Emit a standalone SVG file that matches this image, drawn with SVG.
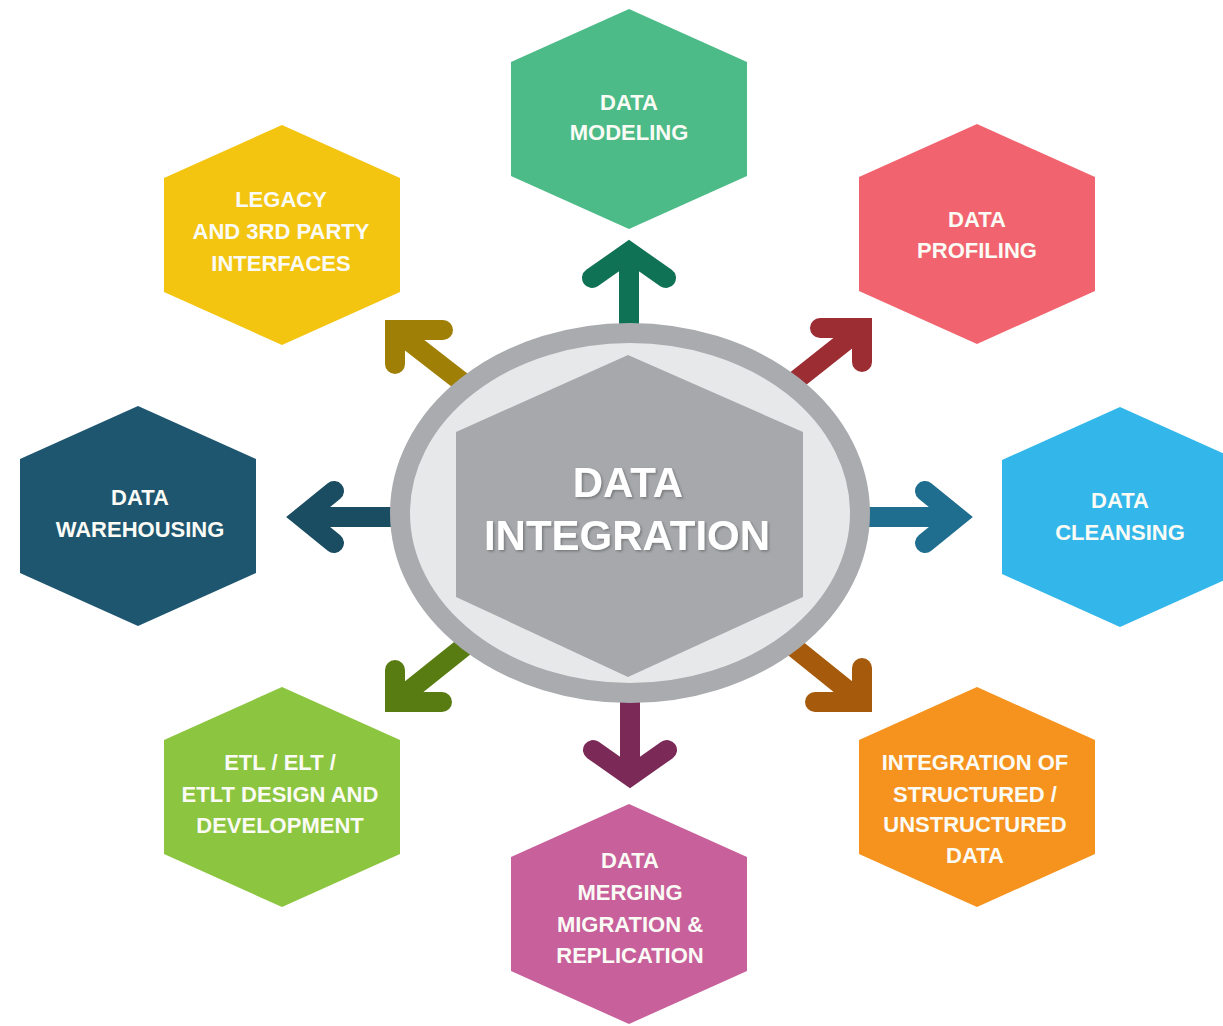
<svg xmlns="http://www.w3.org/2000/svg" xmlns:xlink="http://www.w3.org/1999/xlink" width="1223" height="1026" viewBox="0 0 1223 1026">
<defs>
<path id="hex" d="M0,-110 L118,-57 L118,57 L0,110 L-118,57 L-118,-57 Z"/>
<filter id="sh" x="-10%" y="-20%" width="120%" height="140%">
<feDropShadow dx="1.5" dy="1.5" stdDeviation="1" flood-color="#6d6e70" flood-opacity="0.8"/>
</filter>
</defs>
<style>
.lbl{font-family:"Liberation Sans",Arial,sans-serif;font-weight:bold;font-size:22px;fill:#fbfbf6;text-anchor:middle}
.big{font-family:"Liberation Sans",Arial,sans-serif;font-weight:bold;font-size:42px;fill:#ffffff;text-anchor:middle}
.arr{fill:none;stroke-width:20;stroke-linecap:round;stroke-linejoin:miter}
</style>
<rect width="1223" height="1026" fill="#ffffff"/>
<g id="connectors">
<path class="arr" stroke="#107255" d="M629,340 L629,252 M592,278 L629,252 L666,278"/>
<path class="arr" stroke="#7b2957" d="M630,690 L630,776 M593,750 L630,776 L667,750"/>
<path class="arr" stroke="#1b4d62" d="M400,517 L302,517 M334,491 L302,517 L334,543"/>
<path class="arr" stroke="#1f6e8f" d="M860,517 L957,517 M925,491 L957,517 L925,543"/>
<path class="arr" stroke="#a07f06" d="M480,396 L395,330 M443,330 L395,330 L395,364"/>
<path class="arr" stroke="#9b2d33" d="M780,393 L862,328 M820,328 L862,328 L862,362"/>
<path class="arr" stroke="#587c12" d="M480,634 L395,702 M442,702 L395,702 L395,670"/>
<path class="arr" stroke="#a65b0c" d="M780,636 L862,702 M815,702 L862,702 L862,668"/>
</g>
<g id="center">
<ellipse cx="630" cy="513" rx="230" ry="180" fill="#e7e8e9" stroke="#a9abae" stroke-width="20"/>
<polygon points="628,355 803,432 803,597 628,677 456,597 456,432" fill="#a6a8ab"/>
<g filter="url(#sh)">
<text class="big" x="628" y="497">DATA</text>
<text class="big" x="627" y="550">INTEGRATION</text>
</g>
</g>
<g id="node-modeling">
<use xlink:href="#hex" transform="translate(629,119)" fill="#4cbb88"/>
<text class="lbl" x="629" y="110">DATA</text>
<text class="lbl" x="629" y="140">MODELING</text>
</g>
<g id="node-legacy">
<use xlink:href="#hex" transform="translate(282,235)" fill="#f3c511"/>
<text class="lbl" x="281" y="207">LEGACY</text>
<text class="lbl" x="281" y="239">AND 3RD PARTY</text>
<text class="lbl" x="281" y="271">INTERFACES</text>
</g>
<g id="node-profiling">
<use xlink:href="#hex" transform="translate(977,234)" fill="#f1646f"/>
<text class="lbl" x="977" y="227">DATA</text>
<text class="lbl" x="977" y="258">PROFILING</text>
</g>
<g id="node-warehousing">
<use xlink:href="#hex" transform="translate(138,516)" fill="#1e5670"/>
<text class="lbl" x="140" y="505">DATA</text>
<text class="lbl" x="140" y="537">WAREHOUSING</text>
</g>
<g id="node-cleansing">
<use xlink:href="#hex" transform="translate(1120,517)" fill="#33b7ea"/>
<text class="lbl" x="1120" y="508">DATA</text>
<text class="lbl" x="1120" y="540">CLEANSING</text>
</g>
<g id="node-etl">
<use xlink:href="#hex" transform="translate(282,797)" fill="#8cc53f"/>
<text class="lbl" x="280" y="770">ETL / ELT /</text>
<text class="lbl" x="280" y="802">ETLT DESIGN AND</text>
<text class="lbl" x="280" y="833">DEVELOPMENT</text>
</g>
<g id="node-structured">
<use xlink:href="#hex" transform="translate(977,797)" fill="#f6931e"/>
<text class="lbl" x="975" y="770">INTEGRATION OF</text>
<text class="lbl" x="975" y="802">STRUCTURED /</text>
<text class="lbl" x="975" y="832">UNSTRUCTURED</text>
<text class="lbl" x="975" y="863">DATA</text>
</g>
<g id="node-merging">
<use xlink:href="#hex" transform="translate(629,914)" fill="#c7609b"/>
<text class="lbl" x="630" y="868">DATA</text>
<text class="lbl" x="630" y="900">MERGING</text>
<text class="lbl" x="630" y="932">MIGRATION &amp;</text>
<text class="lbl" x="630" y="963">REPLICATION</text>
</g>
</svg>
